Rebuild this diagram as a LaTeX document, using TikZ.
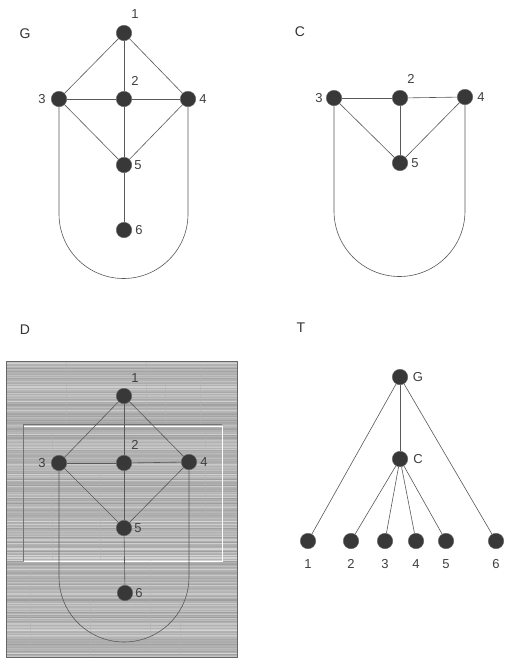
\documentclass[tikz,border=0pt]{standalone}
\usepackage{fontspec}
\setmainfont{Liberation Sans}
\begin{document}
\begin{tikzpicture}[x=1pt,y=-1pt,
  vtx/.style={circle,fill=black!78,draw=black!60,line width=0.4pt,minimum size=15.5pt,inner sep=0pt},
  lbl/.style={inner sep=0pt,font=\fontsize{13}{15}\selectfont,text=black!75},
  ttl/.style={inner sep=0pt,font=\fontsize{14}{16}\selectfont,text=black!80},
  edge/.style={draw=black!65,line width=0.6pt}]
\useasboundingbox (0,0) rectangle (506,659);
\fill[white] (0,0) rectangle (506,659);

% ---------------- panel G ----------------
\node[ttl] (tG) at (25,34) {G};
\node[vtx] (g1) at (124,33) {};
\node[vtx] (g2) at (124,99) {};
\node[vtx] (g3) at (59,99) {};
\node[vtx] (g4) at (188,99) {};
\node[vtx] (g5) at (124,165) {};
\node[vtx] (g6) at (124,230) {};
\node[lbl] (lg1) at (135,14) {1};
\node[lbl] (lg2) at (135,81) {2};
\node[lbl] (lg3) at (42,99) {3};
\node[lbl] (lg4) at (203,99) {4};
\node[lbl] (lg5) at (138,165) {5};
\node[lbl] (lg6) at (139,230) {6};
\coordinate (g3b) at (59,214);
\draw[edge] (g1) -- (g3);
\draw[edge] (g1) -- (g2);
\draw[edge] (g1) -- (g4);
\draw[edge] (g3) -- (g2);
\draw[edge] (g2) -- (g4);
\draw[edge] (g3) -- (g5);
\draw[edge] (g4) -- (g5);
\draw[edge] (g2) -- (g5);
\draw[edge] (g5) -- (g6);
\draw[edge] (g3) -- (g3b) arc[start angle=180,end angle=0,radius=64.5] -- (g4);

% ---------------- panel C ----------------
\node[ttl] (tC) at (300,32) {C};
\node[vtx] (c2) at (400,98) {};
\node[vtx] (c3) at (334,98) {};
\node[vtx] (c4) at (465,97) {};
\node[vtx] (c5) at (400,163) {};
\node[lbl] (lc2) at (411,79) {2};
\node[lbl] (lc3) at (319,98) {3};
\node[lbl] (lc4) at (481,97) {4};
\node[lbl] (lc5) at (415,163) {5};
\coordinate (c3b) at (334,211);
\draw[edge] (c3) -- (c2);
\draw[edge] (c2) -- (c4);
\draw[edge] (c3) -- (c5);
\draw[edge] (c2) -- (c5);
\draw[edge] (c4) -- (c5);
\draw[edge] (c3) -- (c3b) arc[start angle=180,end angle=0,radius=65.5] -- (c4);

% ---------------- panel D ----------------
\node[ttl] (tD) at (25,330) {D};
\fill[black!30] (6,361) rectangle (237,657);
\pgfmathsetseed{11}
\foreach \yy in {362,363.5,...,656} {
  \pgfmathsetmacro\sh{int(62+22*rnd)}
  \draw[white!\sh!black,line width=0.8pt] (6,\yy) -- (237,\yy);
}
\foreach \xx/\ya/\yb in {66/362/425,146/362/420,200/364/424,52/430/560,100/470/560,150/560/650,205/430/520,30/570/650,180/600/655,90/600/657,165/380/440} {
  \draw[black!30,line width=0.6pt,opacity=0.5] (\xx,\ya) -- (\xx,\yb);
}
\draw[black!60,line width=0.8pt] (6,361) rectangle (237,657);
% inner frame
\draw[white,line width=1pt] (24,426) -- (222,426) -- (222,561) -- (24,561);
\draw[black!55,line width=0.8pt] (23,561) -- (23,424) -- (222,424);
\node[vtx] (d1) at (124,396) {};
\node[vtx] (d2) at (124,463) {};
\node[vtx] (d3) at (59,463) {};
\node[vtx] (d4) at (189,462) {};
\node[vtx] (d5) at (124,528) {};
\node[vtx] (d6) at (125,593) {};
\node[lbl] (ld1) at (135,378) {1};
\node[lbl] (ld2) at (135,445) {2};
\node[lbl] (ld3) at (42,463) {3};
\node[lbl] (ld4) at (204,462) {4};
\node[lbl] (ld5) at (138,528) {5};
\node[lbl] (ld6) at (139,593) {6};
\coordinate (d3b) at (59,577);
\draw[edge] (d1) -- (d3);
\draw[edge] (d1) -- (d2);
\draw[edge] (d1) -- (d4);
\draw[edge] (d3) -- (d2);
\draw[edge] (d2) -- (d4);
\draw[edge] (d3) -- (d5);
\draw[edge] (d4) -- (d5);
\draw[edge] (d2) -- (d5);
\draw[edge] (d5) -- (d6);
\draw[edge] (d3) -- (d3b) arc[start angle=180,end angle=0,radius=65] -- (d4);

% ---------------- panel T ----------------
\node[ttl] (tT) at (301,328) {T};
\node[vtx] (tg) at (400,377) {};
\node[vtx] (tc) at (400,459) {};
\node[lbl] (ltg) at (418,377) {G};
\node[lbl] (ltc) at (418,459) {C};
\foreach \n/\xx in {1/308,2/351,3/385,4/416,5/446,6/496} {
  \node[vtx] (t\n) at (\xx,541) {};
  \node[lbl] (lt\n) at (\xx,564) {\n};
}
\draw[edge] (tg) -- (t1);
\draw[edge] (tg) -- (tc);
\draw[edge] (tg) -- (t6);
\draw[edge] (tc) -- (t2);
\draw[edge] (tc) -- (t3);
\draw[edge] (tc) -- (t4);
\draw[edge] (tc) -- (t5);
\end{tikzpicture}
\end{document}
